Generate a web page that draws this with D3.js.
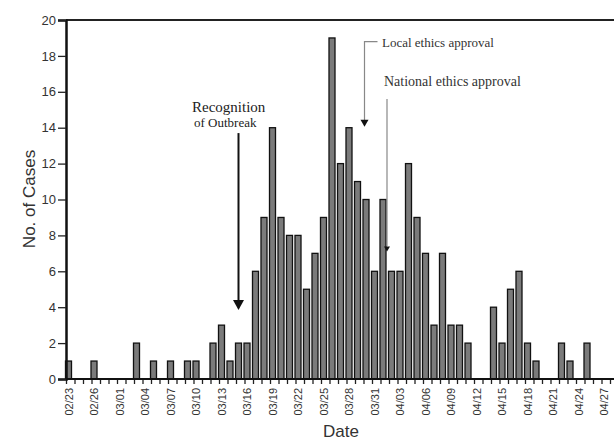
<!DOCTYPE html>
<html>
<head>
<meta charset="utf-8">
<script src="https://cdn.jsdelivr.net/npm/d3@7/dist/d3.min.js"></script>
<style>
	body { margin: 0; background: #fff; }
	svg { display: block; }
</style>
</head>
<body>
<svg id="svg" width="614" height="440"></svg>
<script>
// Daily case counts, 02/23 to 04/28
var days = [
	"02/23","02/24","02/25","02/26","02/27","02/28","03/01","03/02","03/03","03/04",
	"03/05","03/06","03/07","03/08","03/09","03/10","03/11","03/12","03/13","03/14",
	"03/15","03/16","03/17","03/18","03/19","03/20","03/21","03/22","03/23","03/24",
	"03/25","03/26","03/27","03/28","03/29","03/30","03/31","04/01","04/02","04/03",
	"04/04","04/05","04/06","04/07","04/08","04/09","04/10","04/11","04/12","04/13",
	"04/14","04/15","04/16","04/17","04/18","04/19","04/20","04/21","04/22","04/23",
	"04/24","04/25","04/26","04/27","04/28"
];

var cases = [
	1, 0, 0, 1, 0, 0, 0, 0, 2, 0,
	1, 0, 1, 0, 1, 1, 0, 2, 3, 1,
	2, 2, 6, 9, 14, 9, 8, 8, 5, 7,
	9, 19, 12, 14, 11, 10, 6, 10, 6, 6,
	12, 9, 7, 3, 7, 3, 3, 2, 0, 0,
	4, 2, 5, 6, 2, 1, 0, 0, 2, 1,
	0, 2, 0, 0, 0
];

var tickLabels = ["02/23","02/26","03/01","03/04","03/07","03/10","03/13","03/16",
	"03/19","03/22","03/25","03/28","03/31","04/03","04/06","04/09","04/12","04/15",
	"04/18","04/21","04/24","04/27"];

var yTicks = [0, 2, 4, 6, 8, 10, 12, 14, 16, 18, 20];

var svg = d3.select('#svg'),
	sans = "'Liberation Sans', Arial, sans-serif",
	serif = "'Liberation Serif', 'Times New Roman', serif",
	barShift = 2.5;

var x = d3.scalePoint()
	.domain(days)
	.range([66, 610]);

var y = d3.scaleLinear()
	.domain([0, 20])
	.range([379, 20]);

// top frame line
svg.append('line')
	.attr('x1', 66).attr('x2', 614)
	.attr('y1', y(20)).attr('y2', y(20))
	.style('stroke', '#222')
	.style('stroke-width', 2);

// bars
svg.append('g')
	.selectAll('rect')
	.data(days.map(function(d, i){ return {day: d, n: cases[i]}; }).filter(function(d){ return d.n > 0; }))
	.enter()
	.append('rect')
	.attr('x', function(d){ return x(d.day) + barShift - 3; })
	.attr('y', function(d){ return y(d.n); })
	.attr('width', 6)
	.attr('height', function(d){ return y(0) - y(d.n); })
	.style('fill', '#7b7b7b')
	.style('stroke', '#111')
	.style('stroke-width', 1.3);

// x axis
var xAxis = svg.append('g')
	.attr('transform', 'translate(0,' + y(0) + ')')
	.call(d3.axisBottom(x)
		.tickSize(5)
		.tickFormat(function(d){ return tickLabels.indexOf(d) >= 0 ? d : ''; }));

xAxis.select('.domain').remove();
xAxis.append('line')
	.attr('x1', 66).attr('x2', 614)
	.style('stroke', '#111')
	.style('stroke-width', 2);
xAxis.selectAll('.tick line').style('stroke', '#222').style('stroke-width', 1.3);
xAxis.selectAll('.tick text')
	.attr('transform', 'rotate(-90)')
	.attr('x', -9)
	.attr('y', barShift)
	.attr('dy', '0.35em')
	.style('text-anchor', 'end')
	.style('font-family', sans)
	.style('font-size', '11px')
	.style('fill', '#333');

// y axis
var yAxis = svg.append('g')
	.attr('transform', 'translate(66,0)')
	.call(d3.axisLeft(y).tickValues(yTicks).tickSize(8).tickPadding(2));

yAxis.select('.domain').style('stroke', '#111').style('stroke-width', 2.5);
yAxis.selectAll('.tick line').style('stroke', '#222').style('stroke-width', 1.3);
yAxis.selectAll('.tick text')
	.style('font-family', sans)
	.style('font-size', '13px')
	.style('fill', '#333');

// axis titles
svg.append('text')
	.attr('transform', 'translate(35,199) rotate(-90)')
	.style('text-anchor', 'middle')
	.style('font-family', sans)
	.style('font-size', '17px')
	.style('fill', '#333')
	.text('No. of Cases');

svg.append('text')
	.attr('x', 341)
	.attr('y', 437)
	.style('text-anchor', 'middle')
	.style('font-family', sans)
	.style('font-size', '17px')
	.style('fill', '#333')
	.text('Date');

// annotations
var arrowHead = function(cx, tipY, w, h){
	return 'M' + (cx - w / 2) + ',' + (tipY - h) + 'L' + (cx + w / 2) + ',' + (tipY - h) + 'L' + cx + ',' + tipY + 'Z';
};

var recX = x('03/15') + barShift;
svg.append('line')
	.attr('x1', recX).attr('x2', recX)
	.attr('y1', y(13.7)).attr('y2', y(4.3))
	.style('stroke', '#111')
	.style('stroke-width', 2);
svg.append('path')
	.attr('d', arrowHead(recX, y(3.85), 11, 10))
	.style('fill', '#111');
svg.append('text')
	.attr('x', 192).attr('y', 112)
	.style('font-family', serif)
	.style('font-size', '15px')
	.style('fill', '#222')
	.text('Recognition');
svg.append('text')
	.attr('x', 194).attr('y', 127)
	.style('font-family', serif)
	.style('font-size', '13px')
	.style('fill', '#222')
	.text('of Outbreak');

var localX = x('03/30') + barShift - 1.5;
svg.append('path')
	.attr('d', 'M' + (localX + 13) + ',' + y(18.8) + 'H' + localX + 'V' + y(14.4))
	.style('fill', 'none')
	.style('stroke', '#888')
	.style('stroke-width', 1.2);
svg.append('path')
	.attr('d', arrowHead(localX, y(14.05), 8, 7))
	.style('fill', '#111');
svg.append('text')
	.attr('x', 382).attr('y', 47)
	.style('font-family', serif)
	.style('font-size', '13px')
	.style('fill', '#333')
	.text('Local ethics approval');

var natX = x('04/01') + barShift + 4;
svg.append('line')
	.attr('x1', natX).attr('x2', natX)
	.attr('y1', y(15.6)).attr('y2', y(7.4))
	.style('stroke', '#888')
	.style('stroke-width', 1.2);
svg.append('path')
	.attr('d', arrowHead(natX, y(7.1), 6, 5))
	.style('fill', '#111');
svg.append('text')
	.attr('x', 384).attr('y', 86)
	.style('font-family', serif)
	.style('font-size', '14px')
	.style('fill', '#333')
	.text('National ethics approval');
</script>
</body>
</html>
